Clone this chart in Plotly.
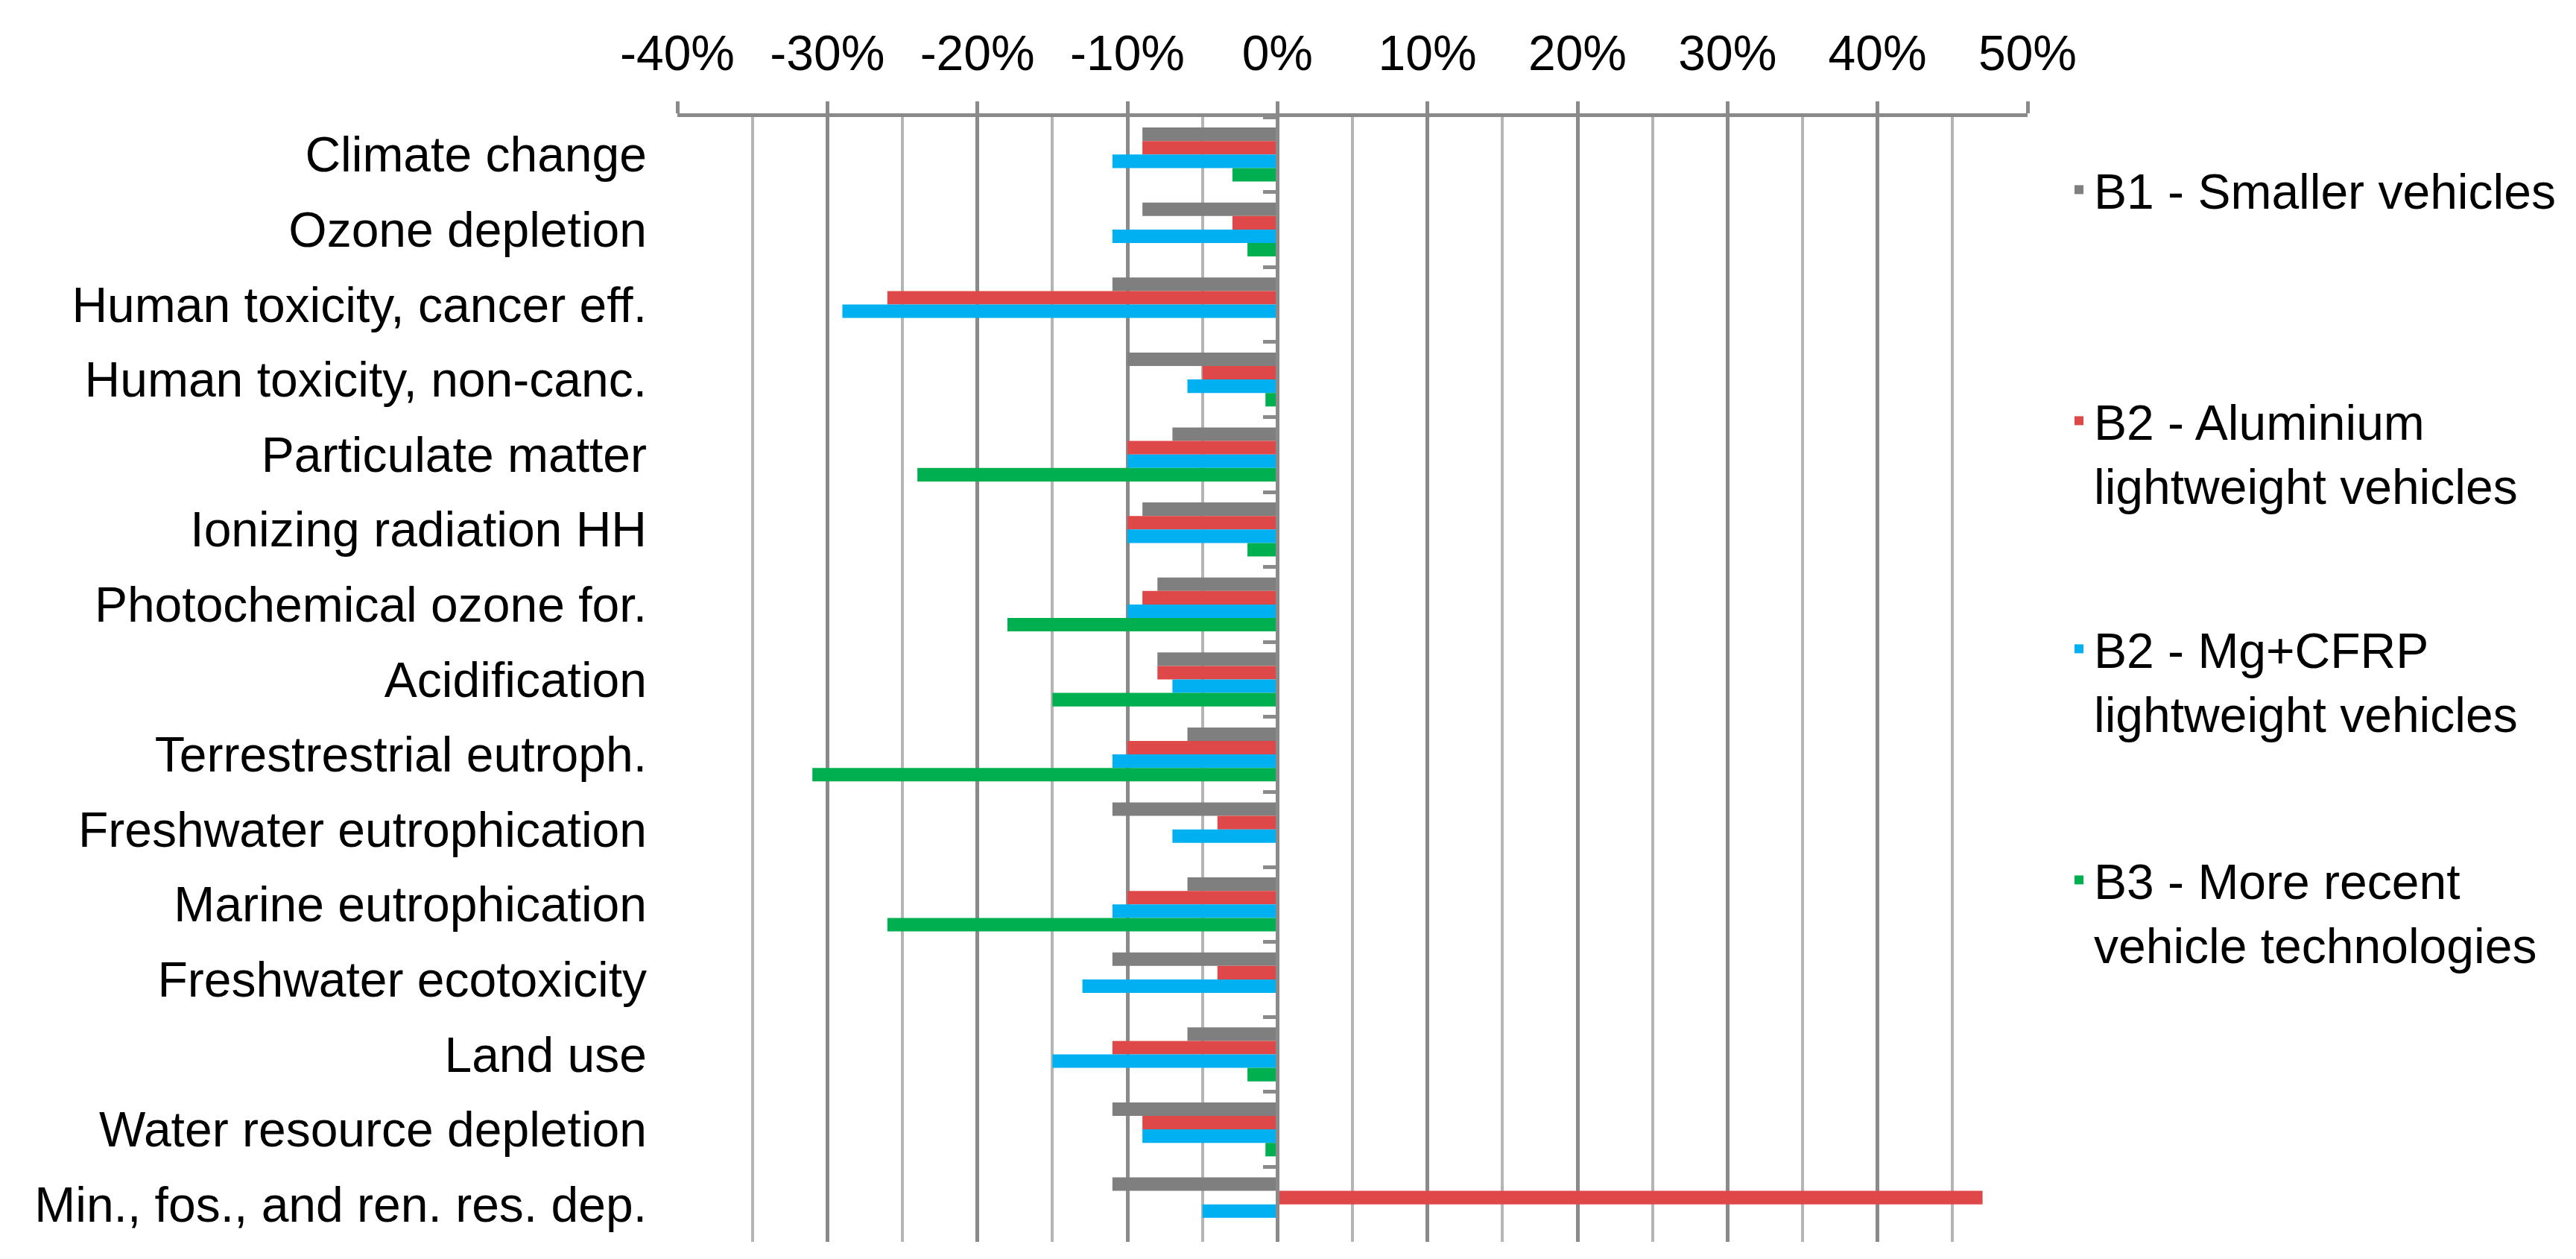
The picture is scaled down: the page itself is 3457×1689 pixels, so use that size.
import plotly.graph_objects as go

# ---------------- data ----------------
categories = [
    "Climate change",
    "Ozone depletion",
    "Human toxicity, cancer eff.",
    "Human toxicity, non-canc.",
    "Particulate matter",
    "Ionizing radiation HH",
    "Photochemical ozone for.",
    "Acidification",
    "Terrestrestrial eutroph.",
    "Freshwater eutrophication",
    "Marine eutrophication",
    "Freshwater ecotoxicity",
    "Land use",
    "Water resource depletion",
    "Min., fos., and ren. res. dep.",
]

series_names = [
    "B1 - Smaller vehicles",
    "B2 - Aluminium<br>lightweight vehicles",
    "B2 - Mg+CFRP<br>lightweight vehicles",
    "B3 - More recent<br>vehicle technologies",
]

# values in percent
b1_smaller = [-9, -9, -11, -10, -7, -9, -8, -8, -6, -11, -6, -11, -6, -11, -11]
b2_aluminium = [-9, -3, -26, -5, -10, -10, -9, -8, -10, -4, -10, -4, -11, -9, 47]
b2_mg_cfrp = [-11, -11, -29, -6, -10, -10, -10, -7, -11, -7, -11, -13, -15, -9, -5]
b3_recent = [-3, -2, 0, -0.8, -24, -2, -18, -15, -31, 0, -26, 0, -2, -0.8, 0]

tick_values = [-40, -30, -20, -10, 0, 10, 20, 30, 40, 50]
tick_labels = ["-40%", "-30%", "-20%", "-10%", "0%", "10%", "20%", "30%", "40%", "50%"]

colors = ["#7F7F7F", "#DF4848", "#00B0F0", "#00B050"]

# ---------------- layout constants ----------------
W, H = 3457, 1689
FONT = "Liberation Sans, Arial, sans-serif"
AXIS_GREY = "#8A8A8A"
MINOR_GREY = "#B5B5B5"
x0, x1 = 901 / W, 2713 / W
y0, y1 = 1 - 1658 / H, 1 - 149 / H
xmin, xmax = -40, 50
zero_pos = x0 + (0 - xmin) / (xmax - xmin) * (x1 - x0)
n_cat = len(categories)
y_range = [n_cat - 0.5, -0.5]  # reversed: first category on top

fig = go.Figure()
legend_ids = ["legend", "legend2", "legend3", "legend4"]
all_series = [b1_smaller, b2_aluminium, b2_mg_cfrp, b3_recent]
for name, vals, col, lg in zip(series_names, all_series, colors, legend_ids):
    fig.add_trace(go.Bar(
        y=categories, x=vals, orientation="h", name=name,
        marker=dict(color=col, line=dict(width=0)),
        legend=lg,
        hovertemplate="%{y}: %{x}%<extra></extra>",
    ))

# invisible helper trace so the category axis at x=0 (with boundary ticks) is drawn
fig.add_trace(go.Scatter(
    x=[0] * n_cat, y=categories, yaxis="y2", mode="markers",
    marker=dict(opacity=0, size=1), showlegend=False, hoverinfo="skip",
))

fig.update_layout(
    width=W, height=H,
    margin=dict(l=0, r=0, t=0, b=0),
    paper_bgcolor="white", plot_bgcolor="white",
    barmode="group", bargap=0.28, bargroupgap=0,
    font=dict(family=FONT, size=66, color="black"),
    xaxis=dict(
        domain=[x0, x1], range=[xmin, xmax], side="top",
        tickmode="array", tickvals=tick_values, ticktext=tick_labels,
        showgrid=True, gridcolor=AXIS_GREY, gridwidth=4.5,
        showline=True, linecolor=AXIS_GREY, linewidth=4.5,
        ticks="outside", ticklen=16, tickwidth=4.5, tickcolor=AXIS_GREY,
        zeroline=False,
        minor=dict(tickmode="linear", tick0=0, dtick=5, showgrid=True,
                   gridcolor=MINOR_GREY, gridwidth=4, ticks=""),
        tickfont=dict(family=FONT, size=66, color="black"),
        ticklabelstandoff=16,
        automargin=False, fixedrange=True,
    ),
    yaxis=dict(
        domain=[y0, y1], type="category",
        categoryorder="array", categoryarray=categories,
        range=y_range, autorange=False,
        showgrid=False, showline=False, zeroline=False, ticks="",
        ticklabelstandoff=40,
        tickfont=dict(family=FONT, size=66, color="black"),
        automargin=False, fixedrange=True,
    ),
    yaxis2=dict(
        overlaying="y", anchor="free", position=zero_pos,
        type="category", categoryorder="array", categoryarray=categories,
        range=y_range, autorange=False,
        showgrid=False, zeroline=False,
        showline=True, linecolor=AXIS_GREY, linewidth=4.5,
        ticks="outside", tickson="boundaries", ticklen=18, tickwidth=4.5,
        tickcolor=AXIS_GREY, showticklabels=False,
        automargin=False, fixedrange=True,
    ),
)

legend_top_px = [197, 507, 813, 1123]
for lg, top in zip(legend_ids, legend_top_px):
    fig.layout[lg] = dict(
        x=2762 / W, xanchor="left", y=1 - top / H, yanchor="top",
        font=dict(family=FONT, size=66, color="black"),
        bgcolor="rgba(0,0,0,0)", valign="top", borderwidth=0,
    )

fig.write_html("out.html")
